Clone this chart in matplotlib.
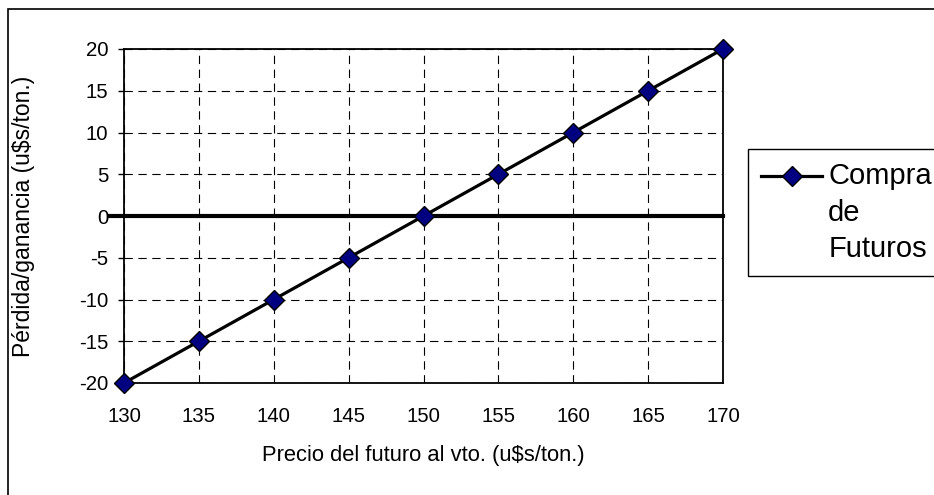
import matplotlib
matplotlib.use('Agg')
import matplotlib.pyplot as plt
from matplotlib.patches import Rectangle

# Data
precio = [130, 135, 140, 145, 150, 155, 160, 165, 170]
resultado = [-20, -15, -10, -5, 0, 5, 10, 15, 20]
xticks = [130, 135, 140, 145, 150, 155, 160, 165, 170]
yticks = [-20, -15, -10, -5, 0, 5, 10, 15, 20]
serie = "Compra\nde\nFuturos"
xlabel = "Precio del futuro al vto. (u$s/ton.)"
ylabel = "Pérdida/ganancia (u$s/ton.)"

plt.rcParams['font.family'] = ['Liberation Sans', 'DejaVu Sans']
plt.rcParams['lines.scale_dashes'] = False

W, H = 934, 495
fig = plt.figure(figsize=(W / 100, H / 100), dpi=100)
fig.patch.set_facecolor('white')

# outer border (left/top visible, right/bottom run off the image)
fig.patches.append(Rectangle((8 / W, -0.05), 1.1, 1 - 9 / H + 0.05,
                             transform=fig.transFigure, fill=False,
                             edgecolor='black', lw=1.2, zorder=0))

L, R, T, B = 124, 723, 49, 383
ax = fig.add_axes([L / W, 1 - B / H, (R - L) / W, (B - T) / H])
ax.set_xlim(130, 170)
ax.set_ylim(-20, 20)
ax.set_xticks(xticks)
ax.set_yticks(yticks)
ax.set_xticklabels([str(v) for v in xticks])
ax.set_yticklabels([str(v) for v in yticks])
ax.grid(True, color='black', lw=0.8, linestyle=(0, (6, 4)))
ax.set_axisbelow(True)
for s in ax.spines.values():
    s.set_color('black')
    s.set_linewidth(1.3)

ax.tick_params(axis='y', direction='out', length=4.3, width=1, pad=7,
               labelsize=14.7, colors='black')
ax.tick_params(axis='x', length=0, pad=17, labelsize=14.7, colors='black')

ax.axhline(0, xmin=-14 / (R - L), xmax=1, color='black', lw=3,
           clip_on=False, zorder=2)
ax.plot(precio, resultado, color='black', lw=2.3, marker='D', ms=10,
        mfc='#000080', mec='black', mew=1, clip_on=False, zorder=3,
        label=serie)

ax.set_xlabel(xlabel, fontsize=15.8)
ax.xaxis.set_label_coords(0.5, (B - 455) / (B - T))
ax.xaxis.label.set_va('center')
ax.set_ylabel(ylabel, fontsize=16.5)
ax.yaxis.set_label_coords((24 - L) / (R - L), (B - 216.5) / (B - T))
ax.yaxis.label.set_va('center')
ax.yaxis.label.set_ha('center')

leg = ax.legend(loc='upper left', bbox_to_anchor=(748 / W, 1 - 149 / H),
                bbox_transform=fig.transFigure, fontsize=21, frameon=True,
                fancybox=False, edgecolor='black', framealpha=1,
                borderpad=0.45, handlelength=2.1, handleheight=1.5,
                handletextpad=0.2, borderaxespad=0)
leg.get_frame().set_linewidth(1)
for t in leg.get_texts():
    t.set_linespacing(1.39)
try:
    for col in leg._legend_handle_box.get_children():
        for item in col.get_children():
            item.align = 'top'
except Exception:
    pass

fig.savefig('out.png', dpi=100)
